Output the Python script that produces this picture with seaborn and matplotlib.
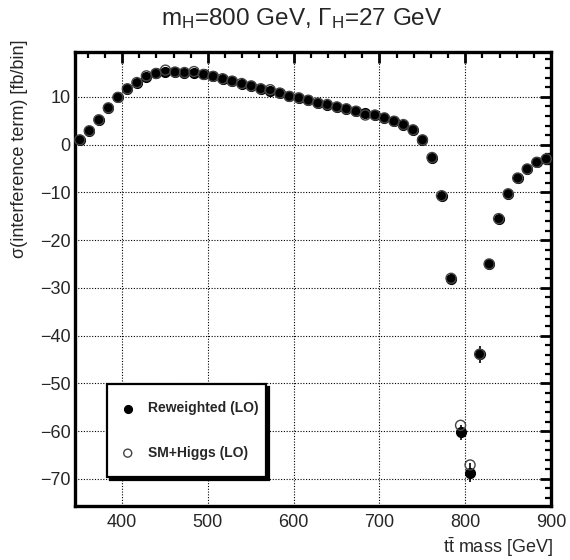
import numpy as np
import pandas as pd
import matplotlib
matplotlib.use("Agg")
import matplotlib.pyplot as plt
import seaborn as sns

# ---- data ----
bin_lo = 345.0
bin_width = 11.1
reweighted = [1.0, 2.9, 5.2, 7.7, 9.9, 11.7, 13.0, 14.2, 14.9, 15.2,
              15.2, 15.1, 15.0, 14.7, 14.3, 13.8, 13.3, 12.8, 12.3, 11.7,
              11.2, 10.8, 10.1, 9.8, 9.3, 8.7, 8.4, 7.9, 7.5, 7.0,
              6.6, 6.2, 5.6, 4.9, 4.2, 3.1, 1.0, -2.7, -10.7, -28.2,
              -60.3, -68.7, -43.9, -25.0, -15.5, -10.3, -7.0, -5.1, -3.7, -3.0]
reweighted_err = [0.3] * 40 + [1.5, 2.0, 1.8] + [0.4] * 7
sm_higgs = [1.0, 2.9, 5.2, 7.7, 9.9, 11.7, 13.0, 14.4, 14.9, 15.6,
            15.2, 15.1, 15.3, 14.7, 14.3, 13.8, 13.3, 12.8, 12.3, 11.7,
            11.5, 10.8, 10.1, 9.8, 9.3, 8.7, 8.4, 7.9, 7.5, 7.0,
            6.2, 6.2, 5.6, 4.9, 4.2, 3.1, 1.0, -2.7, -10.7, -28.0,
            -58.8, -67.1, -43.9, -25.0, -15.5, -10.3, -7.0, -5.1, -3.7, -3.0]
x_ticks = [400, 500, 600, 700, 800, 900]
y_ticks = [-70, -60, -50, -40, -30, -20, -10, 0, 10]
title = r"m$_\mathregular{H}$=800 GeV, $\Gamma_\mathregular{H}$=27 GeV"
x_label = r"t$\mathregular{\bar{t}}$ mass [GeV]"
y_label = "σ(interference term) [fb/bin]"
label_rw = "Reweighted (LO)"
label_sm = "SM+Higgs (LO)"

centers = bin_lo + bin_width * (np.arange(len(reweighted)) + 0.5)
df = pd.DataFrame({"mass": centers, "rw": reweighted, "rw_err": reweighted_err,
                   "sm": sm_higgs})

# ---- style ----
sns.set_style("white")
plt.rcParams["font.family"] = ["Liberation Sans", "DejaVu Sans"]
plt.rcParams["mathtext.fontset"] = "custom"
plt.rcParams["mathtext.rm"] = "Liberation Sans"
plt.rcParams["mathtext.it"] = "Liberation Sans:italic"
plt.rcParams["mathtext.bf"] = "Liberation Sans:bold"

fig = plt.figure(figsize=(5.7, 5.6), dpi=100)
ax = fig.add_axes([75 / 570, 1 - 506 / 560, 476 / 570, 454 / 560])

ax.errorbar(df["mass"], df["rw"], yerr=df["rw_err"], fmt="none",
            ecolor="black", elinewidth=1.2, capsize=0, zorder=2)
sns.scatterplot(data=df, x="mass", y="rw", ax=ax, color="black", s=52,
                edgecolor="black", linewidth=0.8, label=label_rw, zorder=3,
                clip_on=False)
sns.scatterplot(data=df, x="mass", y="sm", ax=ax, facecolor="none", s=52,
                edgecolor="#444444", linewidth=1.0, label=label_sm, zorder=4,
                clip_on=False)

ax.set_xlim(345, 900)
ax.set_ylim(-75.7, 19.4)
ax.set_xticks(x_ticks)
ax.set_yticks(y_ticks)
ax.xaxis.set_minor_locator(matplotlib.ticker.MultipleLocator(20))
ax.yaxis.set_minor_locator(matplotlib.ticker.MultipleLocator(2))
ax.tick_params(axis="both", which="major", direction="in", length=8, width=2,
               top=True, right=True, labelsize=13, color="black")
ax.tick_params(axis="both", which="minor", direction="in", length=4.5, width=1.6,
               top=True, right=True, color="black")
ax.tick_params(axis="x", which="major", pad=6)
ax.tick_params(axis="y", which="major", pad=3)
for sp in ax.spines.values():
    sp.set_linewidth(2.4)
    sp.set_color("black")
ax.grid(True, which="major", linestyle=(0, (1, 1.5)), color="black", linewidth=0.8)
ax.set_axisbelow(True)

ax.set_xlabel(x_label, fontsize=13, loc="right")
ax.xaxis.set_label_coords(1.004, -0.064)
ax.set_ylabel(y_label, fontsize=13, loc="top")
ax.yaxis.set_label_coords(-0.098, 1.027)
fig.text(302 / 570, 1 - 19 / 560, title, fontsize=17.5, ha="center", va="center")

leg = ax.legend(loc="upper left", bbox_to_anchor=(0.067, 0.064, 0.334, 0.205),
                mode="expand", borderaxespad=0, frameon=True, fancybox=False,
                shadow={"color": "black", "alpha": 1.0},
                prop={"size": 10, "weight": "bold"},
                borderpad=1.25, labelspacing=2.2, handlelength=0.5,
                handletextpad=1.2, markerscale=0.8)
leg.get_frame().set_edgecolor("black")
leg.get_frame().set_linewidth(1.6)
leg.get_frame().set_facecolor("white")
leg.set_zorder(10)

fig.savefig("out.png", dpi=100)
